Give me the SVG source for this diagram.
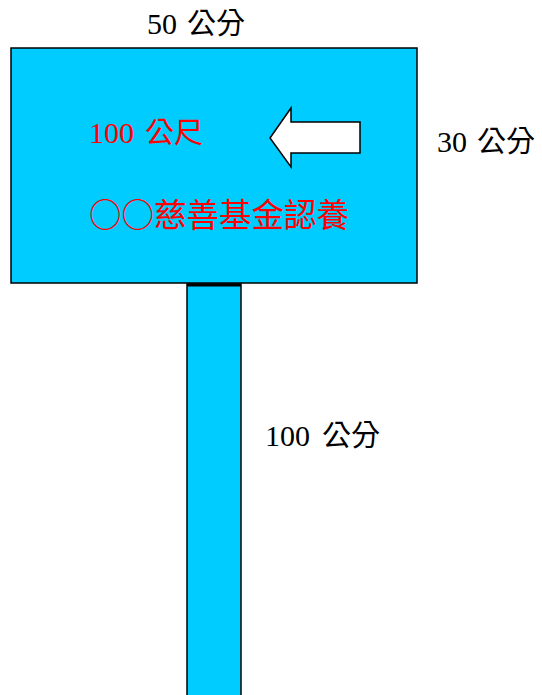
<svg xmlns="http://www.w3.org/2000/svg" width="542" height="695" viewBox="0 0 542 695">
<style>
.lbl{font-family:"Liberation Serif","Noto Sans CJK TC",serif;font-size:30px;fill:#000}
.cjk{font-family:"Noto Sans CJK TC","Noto Sans CJK SC",sans-serif;font-size:29px}
.red{fill:#FF0000}
.part{fill:#00CCFF;stroke:#000;stroke-width:1.5}
</style>
<rect width="542" height="695" fill="#fff"/>
<g id="pole">
<rect class="part" x="187" y="284" width="54" height="414"/>
<line x1="187" y1="285" x2="241" y2="285" stroke="#000" stroke-width="3"/>
</g>
<g id="board">
<rect class="part" x="11" y="48" width="406" height="235"/>
<text class="lbl red" x="89" y="143">100 <tspan class="cjk" x="145">公尺</tspan></text>
<text class="lbl red cjk" x="89" y="227" style="font-size:32.5px">○○慈善基金認養</text>
</g>
<g id="arrow">
<polygon points="270,138 291,108 291,122 360,122 360,153 291,153 291,167" fill="#fff" stroke="#000" stroke-width="1.5"/>
</g>
<g id="labels">
<text class="lbl" x="147" y="34">50 <tspan class="cjk" x="187">公分</tspan></text>
<text class="lbl" x="437" y="152">30 <tspan class="cjk" x="477">公分</tspan></text>
<text class="lbl" x="265" y="446">100 <tspan class="cjk" x="322">公分</tspan></text>
</g>
</svg>
